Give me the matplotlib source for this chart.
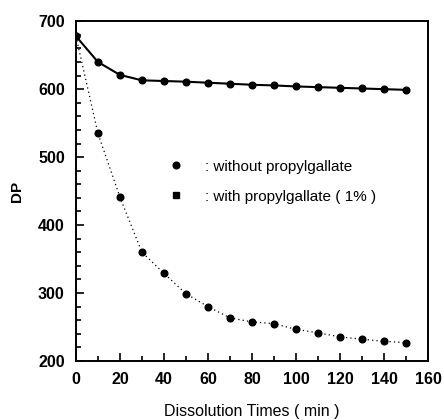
import numpy as np
import matplotlib
matplotlib.use('Agg')
import matplotlib.pyplot as plt
from matplotlib.lines import Line2D
from matplotlib.ticker import MultipleLocator

plt.rcParams['font.family'] = ['Liberation Sans', 'DejaVu Sans']

#Data
times = [0, 10, 20, 30, 40, 50, 60, 70, 80, 90, 100, 110, 120, 130, 140, 150]
dp_with = [678, 640, 621, 613, 612, 611, 609.5, 608, 606.5, 605.5, 604, 603, 602, 601, 600, 599]
dp_without = [678, 535, 441, 360, 329, 299, 280, 263.5, 257.5, 255, 246.5, 241.5, 235.5, 232, 229, 227]
legend_labels = [': without propylgallate', ': with propylgallate ( 1% )']

fig = plt.figure(figsize=(4.44, 4.2), dpi=100)
ax = fig.add_axes([0.171, 0.1405, 0.793, 0.809])

#Curves
ax.plot(times, dp_with, color='black', lw=1.5, marker='o', ms=4.8, zorder=3)
ax.plot(times, dp_without, color='black', lw=0.9, ls=(0, (1, 2.5)), marker='o', ms=4.8, zorder=3)

#Axes
ax.set_xlim(0, 160)
ax.set_ylim(200, 700)
ax.xaxis.set_major_locator(MultipleLocator(20))
ax.xaxis.set_minor_locator(MultipleLocator(10))
ax.yaxis.set_major_locator(MultipleLocator(100))
ax.yaxis.set_minor_locator(MultipleLocator(20))
ax.tick_params(which='both', direction='in', top=False, right=False, width=1.2)
ax.tick_params(which='major', length=6, labelsize=11.5, pad=8)
ax.tick_params(which='minor', length=3.5)
for lbl in ax.get_xticklabels() + ax.get_yticklabels():
    lbl.set_fontweight('bold')
for sp in ax.spines.values():
    sp.set_linewidth(1.4)

ax.set_xlabel('Dissolution Times ( min )', fontsize=11.5, labelpad=12)
ax.set_ylabel('DP', fontsize=11, fontweight='bold', labelpad=10)

#Legend
handles = [Line2D([], [], ls='none', marker='o', ms=4.8, color='black'),
           Line2D([], [], ls='none', marker='s', ms=4, color='black')]
ax.legend(handles, legend_labels, loc='upper left', bbox_to_anchor=(0.24, 0.615),
          frameon=False, fontsize=11, handlelength=1, handletextpad=1.4,
          labelspacing=1.05, borderpad=0)

fig.savefig('out.png', dpi=100)
